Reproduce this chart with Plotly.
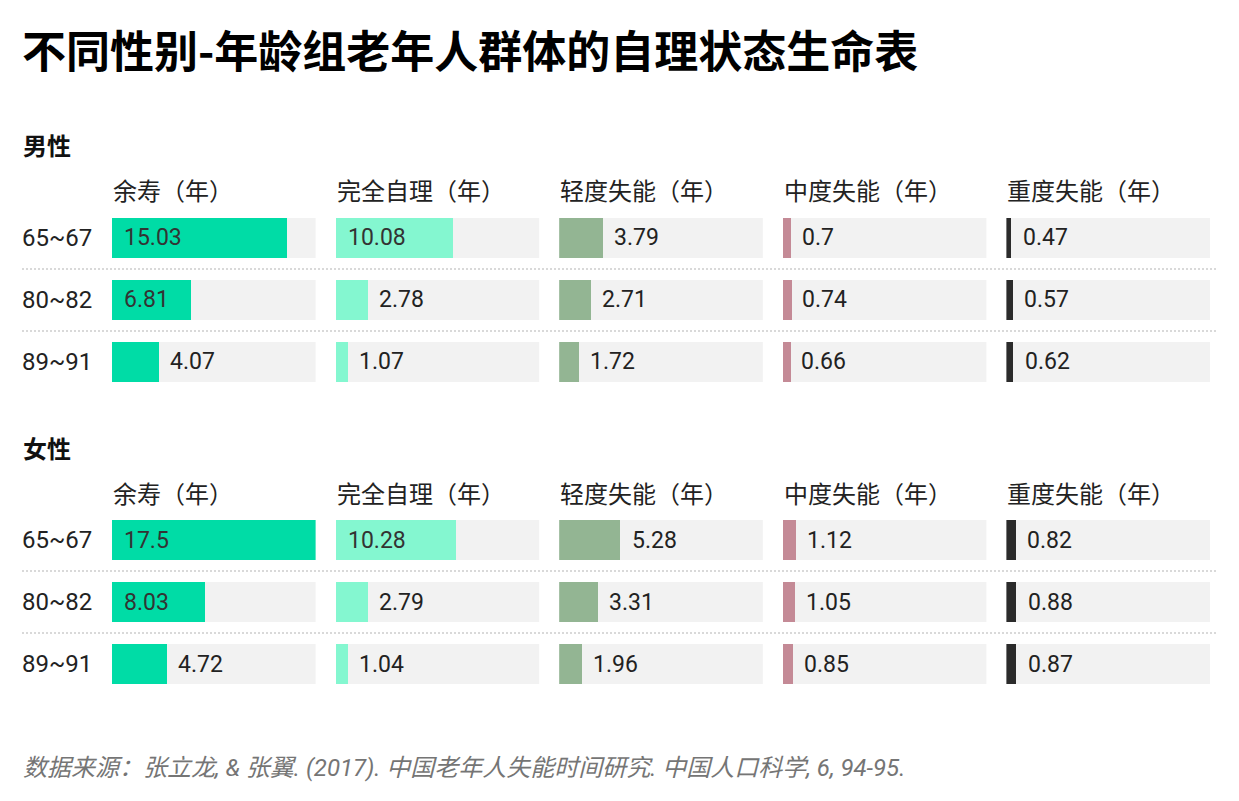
import plotly.graph_objects as go

# page body has an 8px margin; the figure is laid out in reference pixel
# coordinates and shifted by that offset
OFF = 8
FW, FH = 1223, 785

title = "不同性别-年龄组老年人群体的自理状态生命表"
source = "数据来源：张立龙, & 张翼. (2017). 中国老年人失能时间研究. 中国人口科学, 6, 94-95."
sections = ["男性", "女性"]
ages = ["65~67", "80~82", "89~91"]
columns = ["余寿（年）", "完全自理（年）", "轻度失能（年）", "中度失能（年）", "重度失能（年）"]

male_life = [15.03, 6.81, 4.07]
male_independent = [10.08, 2.78, 1.07]
male_mild = [3.79, 2.71, 1.72]
male_moderate = [0.7, 0.74, 0.66]
male_severe = [0.47, 0.57, 0.62]

female_life = [17.5, 8.03, 4.72]
female_independent = [10.28, 2.79, 1.04]
female_mild = [5.28, 3.31, 1.96]
female_moderate = [1.12, 1.05, 0.85]
female_severe = [0.82, 0.88, 0.87]

data = [
    [male_life, male_independent, male_mild, male_moderate, male_severe],
    [female_life, female_independent, female_mild, female_moderate, female_severe],
]

colors = ["#00DCA6", "#84F7D0", "#93B593", "#C48A96", "#2B2B2B"]
track_color = "#F2F2F2"
x_max = 17.5
inside_threshold = 6

FONT = "Roboto, 'Noto Sans CJK SC', sans-serif"
CJK = "'Noto Sans CJK SC', Roboto, sans-serif"

# layout geometry (reference pixels)
col_left0, col_right_end, col_gap = 112, 1210, 20
n_cols = 5
col_w = (col_right_end - col_left0 - col_gap * (n_cols - 1)) / n_cols
col_step = col_w + col_gap
row_step, bar_h = 62, 40
section_top_row = [238, 540]      # centre of first row
section_label_y = [145, 447]
header_y = [190, 492]

def px_x(p):
    return (p - OFF) / FW

def px_y(p):
    return 1 - (p - OFF) / FH

fig = go.Figure()
layout_axes = {}
annotations = []
shapes = []

for s, sec in enumerate(sections):
    top = section_top_row[s] - row_step / 2
    bottom = section_top_row[s] + 2 * row_step + row_step / 2
    for c, col in enumerate(columns):
        k = s * 5 + c + 1
        xa = "x" if k == 1 else f"x{k}"
        ya = "y" if k == 1 else f"y{k}"
        x0 = col_left0 + c * col_step
        layout_axes["xaxis" if k == 1 else f"xaxis{k}"] = dict(
            domain=[px_x(x0), px_x(x0 + col_w)], range=[0, x_max],
            anchor=ya, visible=False, fixedrange=True)
        layout_axes["yaxis" if k == 1 else f"yaxis{k}"] = dict(
            domain=[px_y(bottom), px_y(top)], type="category",
            categoryorder="array", categoryarray=ages,
            range=[2.5, -0.5], anchor=xa, visible=False, fixedrange=True)
        vals = data[s][c]
        fig.add_trace(go.Bar(
            x=[x_max] * len(ages), y=ages, orientation="h",
            marker=dict(color=track_color, line=dict(width=0)),
            width=bar_h / row_step, xaxis=xa, yaxis=ya,
            hoverinfo="skip", showlegend=False))
        fig.add_trace(go.Bar(
            x=vals, y=ages, orientation="h",
            marker=dict(color=colors[c], line=dict(width=0)),
            width=bar_h / row_step, xaxis=xa, yaxis=ya,
            showlegend=False))
        for a, v in zip(ages, vals):
            inside = v > inside_threshold
            annotations.append(dict(
                x=0 if inside else v, y=a, xref=xa, yref=ya,
                text=f"{v:g}", showarrow=False, xanchor="left",
                yanchor="middle", xshift=10 if inside else 9,
                font=dict(family=FONT, size=23,
                          color="#333333" if inside else "#222222")))
        # column header
        annotations.append(dict(
            x=px_x(x0 - 1), y=px_y(header_y[s]), xref="paper", yref="paper",
            text=col, showarrow=False, xanchor="left", yanchor="middle",
            font=dict(family=CJK, size=24, color="#222222")))
    # section label
    annotations.append(dict(
        x=px_x(21), y=px_y(section_label_y[s]), xref="paper", yref="paper",
        text=f"<b>{sec}</b>", showarrow=False, xanchor="left", yanchor="middle",
        font=dict(family=CJK, size=24, color="#111111")))
    ya1 = "y" if s == 0 else f"y{s * 5 + 1}"
    for a in ages:
        annotations.append(dict(
            x=px_x(20), y=a, xref="paper", yref=ya1,
            text=a, showarrow=False, xanchor="left", yanchor="middle",
            font=dict(family=FONT, size=24, color="#222222")))
    for yy in [0.5, 1.5]:
        shapes.append(dict(
            type="line", xref="paper", yref=ya1,
            x0=px_x(22), x1=px_x(1218), y0=yy, y1=yy,
            line=dict(color="#D9D9D9", width=2, dash="2px,2px")))

annotations.append(dict(
    x=px_x(20), y=px_y(49), xref="paper", yref="paper",
    text=f"<b>{title}</b>", showarrow=False, xanchor="left", yanchor="middle",
    font=dict(family=CJK, size=44, color="#000000")))
annotations.append(dict(
    x=px_x(21), y=px_y(768), xref="paper", yref="paper",
    text=f"<i>{source}</i>", showarrow=False, xanchor="left", yanchor="middle",
    font=dict(family=FONT, size=24, color="#757575")))

fig.update_layout(
    width=FW, height=FH,
    margin=dict(l=0, r=0, t=0, b=0),
    paper_bgcolor="white", plot_bgcolor="white",
    barmode="overlay", bargap=0,
    annotations=annotations, shapes=shapes,
    **layout_axes)

fig.write_html("out.html")
